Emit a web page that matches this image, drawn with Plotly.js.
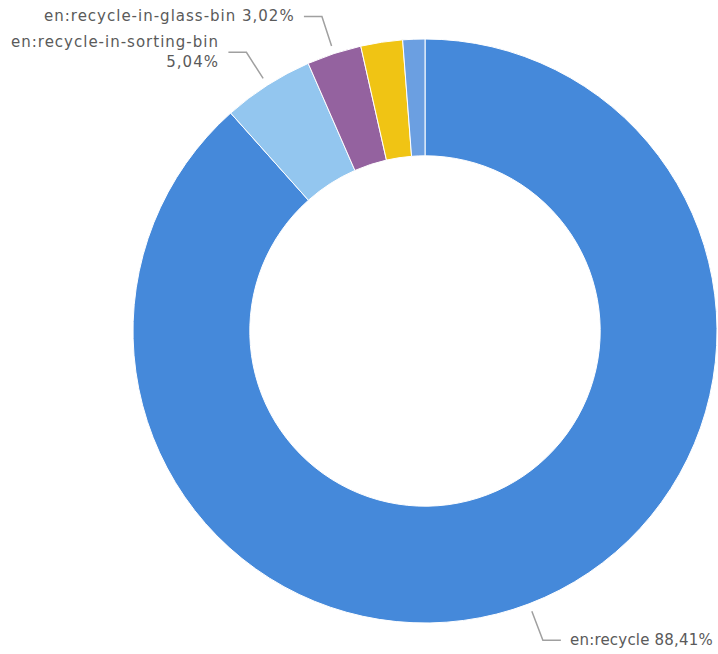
<!DOCTYPE html>
<html>
<head>
<meta charset="utf-8">
<script src="https://cdn.plot.ly/plotly-3.0.1.min.js"></script>
<style>
  html, body { margin: 0; padding: 0; background: #ffffff; }
  #chart { width: 718px; height: 654px; }
  .annotation-text { letter-spacing: 1px; }
</style>
</head>
<body>
<div id="chart"></div>
<script>
// ---- data ----
const categories = [
  'en:recycle',
  'en:recycle-in-sorting-bin',
  'en:recycle-in-glass-bin',
  'en:recycle-in-paper-bin',
  'en:recycle-in-compost'
];
const shares = [88.41, 5.04, 3.02, 2.31, 1.22];
const sliceColors = ['#4589DA', '#93C6EF', '#94629F', '#F0C414', '#6B9FE1'];
const showLabel = [true, true, true, false, false];
const breakLabel = [false, true, false, false, false];

// ---- geometry ----
const W = 718, H = 654;
const cx = 425, cy = 331, R = 292;
const domainX = [(cx - R) / W, (cx + R) / W];
const domainY = [(H - (cy + R)) / H, (H - (cy - R)) / H];

const total = shares.reduce((a, b) => a + b, 0);
const px = x => x / W;
const py = y => 1 - y / H;

const shapes = [];
const annotations = [];
let cum = 0;
shares.forEach((v, i) => {
  const mid = (cum + v / 2) / total;
  cum += v;
  if (!showLabel[i]) return;
  const th = 2 * Math.PI * mid;
  const s = Math.sin(th), c = Math.cos(th);
  const r0 = R + 8, r1 = R + 39;
  const x0 = cx + r0 * s, y0 = cy - r0 * c;
  const x1 = cx + r1 * s, y1 = cy - r1 * c;
  const dir = s < 0 ? -1 : 1;
  const x2 = x1 + dir * 18;
  shapes.push({
    type: 'path', xref: 'paper', yref: 'paper',
    path: `M ${px(x0)} ${py(y0)} L ${px(x1)} ${py(y1)} L ${px(x2)} ${py(y1)}`,
    line: { color: '#A0A0A0', width: 1.5 }
  });
  const pct = (v / total * 100).toFixed(2).replace('.', ',') + '%';
  let txt = categories[i] + (breakLabel[i] ? '<br>' : ' ') + pct;
  if (dir > 0) txt = '<span style="letter-spacing:0.2px">' + txt + '</span>';
  annotations.push({
    xref: 'paper', yref: 'paper',
    x: px(x2 + dir * 7), y: py(y1),
    xanchor: dir < 0 ? 'right' : 'left', yanchor: 'middle',
    align: dir < 0 ? 'right' : 'left',
    showarrow: false, text: txt,
    font: { family: 'DejaVu Sans', size: 15, color: '#5A5A5A' }
  });
});

const trace = {
  type: 'pie',
  labels: categories,
  values: shares,
  hole: 0.6,
  sort: false,
  direction: 'clockwise',
  rotation: 0,
  textinfo: 'none',
  hoverinfo: 'label+percent',
  marker: { colors: sliceColors, line: { color: '#ffffff', width: 1 } },
  domain: { x: domainX, y: domainY }
};

const layout = {
  width: W, height: H,
  margin: { l: 0, r: 0, t: 0, b: 0 },
  showlegend: false,
  paper_bgcolor: '#ffffff',
  shapes: shapes,
  annotations: annotations
};

Plotly.newPlot('chart', [trace], layout, { displayModeBar: false, staticPlot: true });
</script>
</body>
</html>
